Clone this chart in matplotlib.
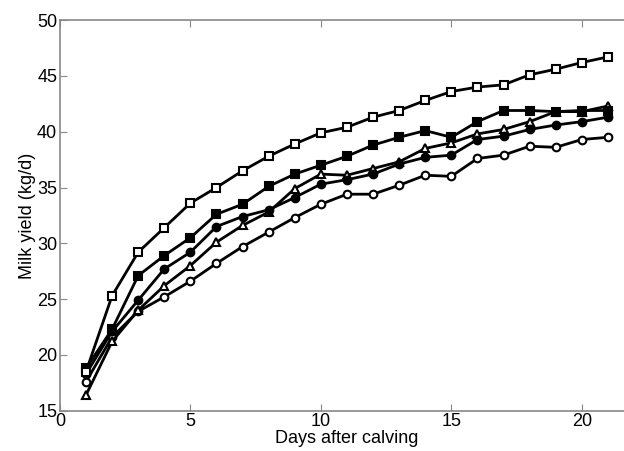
import numpy as np
import matplotlib
matplotlib.use("Agg")
from matplotlib import pyplot as plt

plt.rcParams['font.family'] = ['Liberation Sans', 'DejaVu Sans']

days = list(range(1, 22))

# open squares (top curve)
open_sq = [18.5, 25.3, 29.2, 31.4, 33.6, 35.0, 36.5, 37.8, 38.9, 39.9, 40.4,
           41.3, 41.9, 42.8, 43.6, 44.0, 44.2, 45.1, 45.6, 46.2, 46.7]
# filled squares
fill_sq = [18.8, 22.3, 27.1, 28.9, 30.5, 32.6, 33.5, 35.1, 36.2, 37.0, 37.8,
           38.8, 39.5, 40.1, 39.5, 40.9, 41.9, 41.9, 41.8, 41.9, 41.9]
# filled circles
fill_ci = [18.3, 22.1, 24.9, 27.7, 29.2, 31.5, 32.4, 33.0, 34.1, 35.3, 35.7,
           36.2, 37.1, 37.7, 37.9, 39.3, 39.6, 40.2, 40.6, 40.9, 41.3]
# open triangles
open_tri = [16.4, 21.2, 24.0, 26.2, 28.0, 30.1, 31.6, 32.8, 34.9, 36.2, 36.1,
            36.7, 37.3, 38.5, 39.0, 39.8, 40.2, 40.9, 41.8, 41.8, 42.3]
# open circles (bottom curve)
open_ci = [17.6, 21.6, 23.9, 25.2, 26.6, 28.2, 29.7, 31.0, 32.3, 33.5, 34.4,
           34.4, 35.2, 36.1, 36.0, 37.6, 37.9, 38.7, 38.6, 39.3, 39.5]

fig = plt.figure(figsize=(6.24, 4.51), dpi=100)
ax = fig.add_axes([0.096, 0.0894, 0.92, 0.866])

style = dict(color='k', lw=2, ms=5.5, mew=1.5, mec='k')
ax.plot(days, open_ci, marker='o', mfc='white', **style)
ax.plot(days, open_tri, marker='^', mfc='white', **style)
ax.plot(days, fill_ci, marker='o', mfc='k', **style)
ax.plot(days, fill_sq, marker='s', mfc='k', **style)
ax.plot(days, open_sq, marker='s', mfc='white', **style)

ax.set_xlim(0, 22)
ax.set_ylim(15, 50)
ax.set_xticks([0, 5, 10, 15, 20])
ax.set_yticks(np.arange(15, 51, 5))
ax.tick_params(direction='in', length=5, color='#888888', labelsize=13,
               top=True, right=False, pad=2)
for s in ax.spines.values():
    s.set_color('#888888')
    s.set_linewidth(1.2)
# the original figure is cut off before its right edge
ax.spines['right'].set_visible(False)

ax.set_xlabel("Days after calving", fontsize=13, labelpad=0)
ax.set_ylabel("Milk yield (kg/d)", fontsize=13, labelpad=1)

fig.savefig("out.png", dpi=100)
